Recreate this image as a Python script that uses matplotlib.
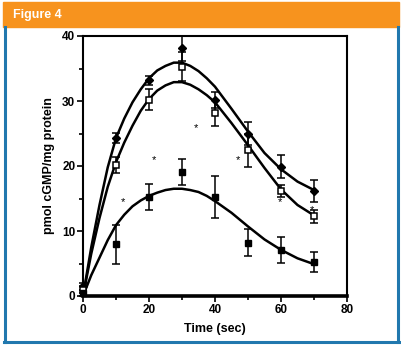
import numpy as np
import matplotlib
matplotlib.use('Agg')
import matplotlib.pyplot as plt
from matplotlib.patches import Rectangle
from matplotlib.lines import Line2D

plt.rcParams['font.family'] = ['Liberation Sans', 'DejaVu Sans']

# measured points
time_pts = [0, 10, 20, 30, 40, 50, 60, 70]
ctrl_mean = [1.5, 24.3, 33.2, 38.1, 30.2, 25.0, 19.9, 16.2]
ctrl_err = [0.5, 0.8, 0.7, 1.9, 1.2, 1.8, 1.8, 1.7]
open_mean = [1.0, 20.2, 30.2, 35.3, 28.1, 22.4, 16.2, 12.3]
open_err = [0.5, 1.2, 1.6, 2.2, 2.0, 2.5, 0.9, 1.0]
fill_mean = [0.5, 8.0, 15.3, 19.1, 15.2, 8.2, 7.1, 5.2]
fill_err = [0.5, 3.0, 2.0, 2.0, 3.2, 2.1, 2.0, 1.5]

# fitted curves
curve_t = [0, 2.5, 5, 7.5, 10, 12.5, 15, 17.5, 20, 22.5, 25, 27.5, 30,
           32.5, 35, 37.5, 40, 45, 50, 55, 60, 65, 70]
ctrl_fit = [0, 7.5, 14.0, 19.8, 24.3, 27.3, 29.8, 31.8, 33.5, 34.7, 35.4, 35.9, 35.9,
            35.4, 34.6, 33.5, 32.2, 28.8, 25.3, 22.0, 19.5, 17.6, 16.3]
open_fit = [0, 6.5, 12.0, 16.8, 20.6, 23.6, 26.2, 28.5, 30.3, 31.6, 32.4, 32.9, 32.9,
            32.5, 31.8, 30.9, 29.8, 26.6, 23.2, 19.7, 16.4, 14.0, 12.4]
fill_fit = [0, 3.2, 5.9, 8.6, 10.9, 12.5, 13.8, 14.7, 15.4, 15.9, 16.3, 16.5, 16.5,
            16.3, 16.0, 15.4, 14.6, 12.8, 10.7, 8.7, 7.1, 5.8, 4.9]

# significance marks
star_x = [12, 21.5, 34.1, 47, 59.7, 69.3]
star_y = [14.5, 20.9, 25.8, 20.9, 14.5, 13.2]

fig = plt.figure(figsize=(4.01, 3.45), dpi=100)

# frame: orange banner and blue border
W, H = 401, 345
fig.patches.append(Rectangle((3 / W, 1 - 27 / H), 396 / W, 25 / H,
                             transform=fig.transFigure, color='#F7931E', zorder=0))
blue = '#2178AE'
for xs, ys in [([5 / W, 5 / W], [1 - 27 / H, 1 - 342 / H]),
               ([397.5 / W, 397.5 / W], [1 - 27 / H, 1 - 342 / H]),
               ([4 / W, 398.5 / W], [1 - 341.5 / H, 1 - 341.5 / H])]:
    fig.lines.append(Line2D(xs, ys, transform=fig.transFigure, color=blue, lw=2.2))
fig.text(13 / W, 1 - 15 / H, 'Figure 4', color='white', fontsize=9,
         fontweight='bold', va='center', ha='left')

ax = fig.add_axes([83 / W, 1 - 296 / H, 264 / W, 260 / H])

ax.plot(curve_t, ctrl_fit, color='black', lw=1.8, zorder=2)
ax.plot(curve_t, open_fit, color='black', lw=1.8, zorder=2)
ax.plot(curve_t, fill_fit, color='black', lw=1.8, zorder=2)

eb = dict(ls='none', ecolor='black', elinewidth=1.1, capsize=3, capthick=1.1,
          zorder=3, clip_on=False)
ax.errorbar(time_pts, ctrl_mean, yerr=ctrl_err, marker='D', ms=4,
            mfc='black', mec='black', **eb)
ax.errorbar(time_pts, open_mean, yerr=open_err, marker='s', ms=5,
            mfc='white', mec='black', mew=1.1, **eb)
ax.errorbar(time_pts, fill_mean, yerr=fill_err, marker='s', ms=5,
            mfc='black', mec='black', **eb)

for sx, sy in zip(star_x, star_y):
    ax.text(sx, sy, '*', fontsize=8, ha='center', va='center')

ax.set_xlim(0, 80)
ax.set_ylim(0, 40)
ax.set_xticks([0, 20, 40, 60, 80])
ax.set_xticks([10, 30, 50, 70], minor=True)
ax.set_yticks([0, 10, 20, 30, 40])
ax.set_yticks([5, 15, 25, 35], minor=True)
ax.tick_params(which='major', direction='out', length=4, width=1.2,
               labelsize=8.5, pad=1.5)
ax.tick_params(which='minor', direction='out', length=3, width=1.2)
for lab in ax.get_xticklabels() + ax.get_yticklabels():
    lab.set_fontweight('bold')

for side in ['top', 'right', 'left']:
    ax.spines[side].set_linewidth(1.5)
ax.spines['bottom'].set_linewidth(2.6)

ax.set_xlabel('Time (sec)', fontsize=9, fontweight='bold', labelpad=5)
ax.set_ylabel('pmol cGMP/mg protein', fontsize=9, fontweight='bold', labelpad=5)

fig.savefig('out.png', dpi=100)
